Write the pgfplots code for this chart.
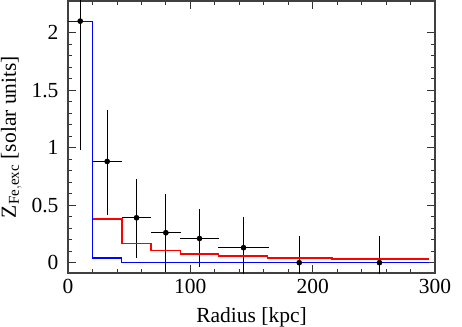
\documentclass[border=0pt]{standalone}
\usepackage{pgfplots}
\pgfplotsset{compat=1.18}
\usepackage{fontspec}
\setmainfont{Liberation Serif}
\newcommand{\bigf}{\fontsize{21.5bp}{25bp}\selectfont}
\begin{document}
\begin{tikzpicture}[x=1bp,y=1bp]
\begin{axis}[
  scale only axis,
  width=367bp, height=272bp,
  xmin=0, xmax=300, ymin=-0.09, ymax=2.275,
  xtick={0,100,200,300},
  ytick={0,0.5,1,1.5,2},
  yticklabels={0,0.5,1,1.5,2},
  minor x tick num=4,
  minor y tick num=4,
  tick align=inside,
  ticks=both,
  xtick pos=both, ytick pos=both,
  major tick length=8bp,
  minor tick length=4bp,
  every tick/.style={black!80, line width=0.8bp},
  axis line style={black!75, line width=1.2bp},
  tick label style={font=\bigf},
  label style={font=\bigf},
  /pgf/number format/assume math mode=true,
  xticklabel style={yshift=-3bp},
  yticklabel style={xshift=-6bp},
  xlabel={Radius [kpc]},
  ylabel={Z$_{\mathrm{\fontsize{15bp}{17bp}\selectfont Fe,exc}}$ [solar units]},
  xlabel style={yshift=-7bp},
  ylabel style={yshift=3bp},
  clip=true,
]
\addplot[only marks, mark=none,
  error bars/.cd, x dir=both, x explicit, y dir=both, y explicit,
  error bar style={black, line width=1bp}, error mark=none]
coordinates {
 (10,2.10) += (10,0.4) -= (10,1.12)
 (32,0.88) += (12,0.45) -= (12,0.47)
 (56,0.39) += (12,0.335) -= (12,0.35)
 (80,0.26) += (12,0.34) -= (12,0.34)
 (107.5,0.21) += (16,0.26) -= (16,0.25)
 (143.5,0.13) += (20.5,0.27) -= (20.5,0.27)
 (189,0.0) += (26,0.23) -= (26,0.23)
 (254.6,0.0) += (40,0.23) -= (40,0.23)
};
\addplot[const plot, draw=red, line width=1.6bp, mark=none]
coordinates {(20,0.38) (44,0.165) (68,0.104) (92,0.073) (123,0.058) (163,0.043) (216,0.032) (295,0.032)};
\addplot[const plot, draw=blue, line width=1.2bp, mark=none]
coordinates {(0,2.1) (20,0.04) (44,0.003) (295,0.003)};
\addplot[only marks, black, mark=*, mark size=2.6bp]
coordinates {(10,2.10) (32,0.88) (56,0.39) (80,0.26) (107.5,0.21) (143.5,0.13) (189,0.0) (254.6,0.0)};
\end{axis}
\pgfresetboundingbox
\path ([xshift=-68bp,yshift=-54bp]current axis.south west) rectangle ([xshift=27bp,yshift=1bp]current axis.north east);
\end{tikzpicture}
\end{document}
